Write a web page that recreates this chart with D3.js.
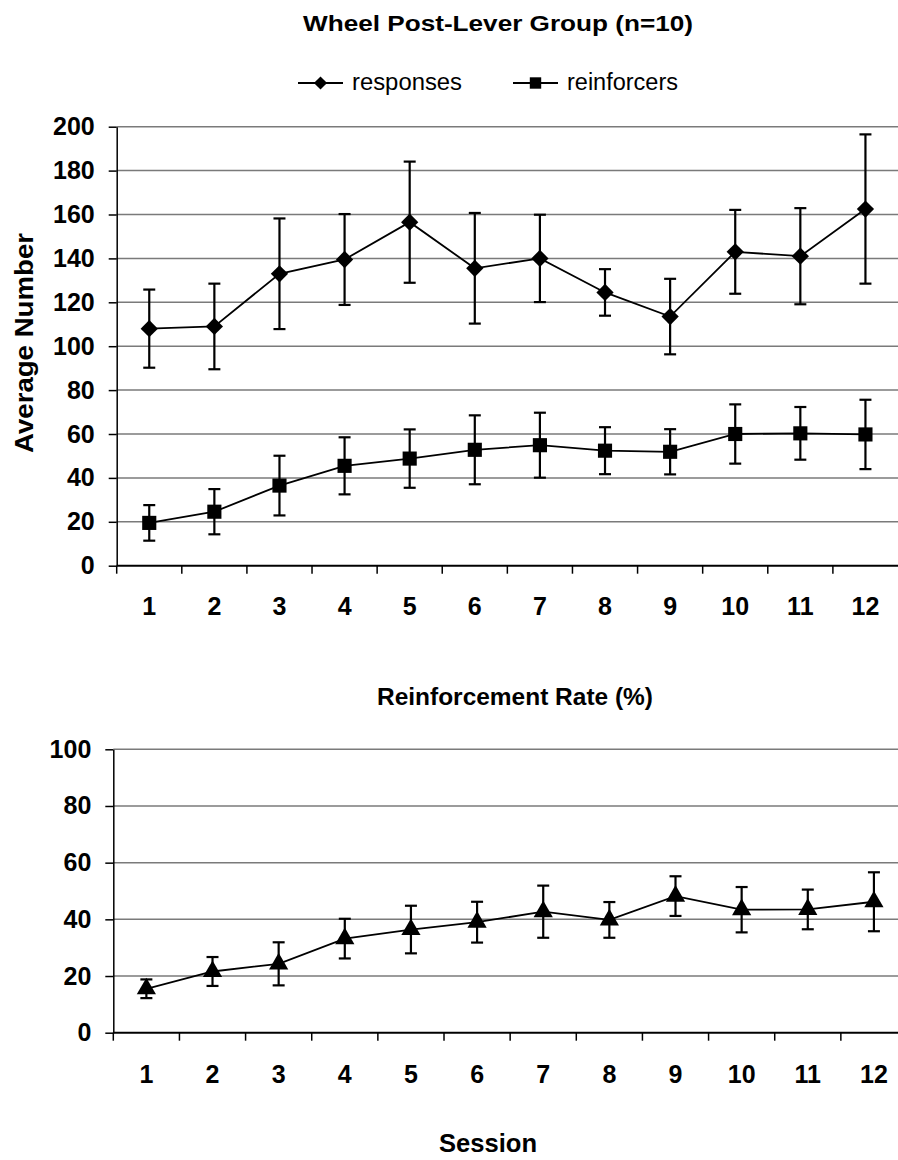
<!DOCTYPE html>
<html>
<head>
<meta charset="utf-8">
<script src="https://cdn.jsdelivr.net/npm/d3@7"></script>
<style>
  body { margin: 0; background: #fff; }
  svg { display: block; font-family: "Liberation Sans", Arial, sans-serif; }
</style>
</head>
<body>
<div id="chart"></div>
<script>
// sessions on the x axis
const sessions = [1, 2, 3, 4, 5, 6, 7, 8, 9, 10, 11, 12];

// top panel: average number (mean +/- error)
const responsesMean = [108, 109, 133, 139.5, 156.5, 135.5, 140, 124.5, 113.5, 143, 141, 162.5];
const responsesErr = [17.8, 19.5, 25.2, 20.7, 27.6, 25.2, 19.9, 10.6, 17.2, 19.1, 21.9, 34];
const reinforcersMean = [19.5, 24.6, 36.5, 45.5, 48.8, 52.8, 54.9, 52.4, 51.9, 60, 60.3, 59.8];
const reinforcersErr = [8.1, 10.3, 13.6, 13, 13.3, 15.7, 14.8, 10.7, 10.3, 13.5, 12, 15.8];

// bottom panel: reinforcement rate (%)
const rateMean = [15.5, 21.6, 24.3, 33.2, 36.4, 39, 42.7, 39.8, 48.2, 43.4, 43.5, 46.2];
const rateErr = [3.3, 5.1, 7.6, 7, 8.4, 7.2, 9.2, 6.3, 7, 8, 7, 10.4];

const topTicks = [0, 20, 40, 60, 80, 100, 120, 140, 160, 180, 200];
const bottomTicks = [0, 20, 40, 60, 80, 100];

const width = 898;
const height = 1160;

const svg = d3.select("#chart")
    .append("svg")
    .attr("width", width)
    .attr("height", height);

// one panel: gridlines, axes, error bars, line and markers
let drawPanel = function (cfg) {
    const x = d3.scaleBand()
        .domain(sessions)
        .range([cfg.left, cfg.right]);
    const y = d3.scaleLinear()
        .domain([0, cfg.max])
        .range([cfg.bottom, cfg.top]);

    const g = svg.append("g");

    // gridlines
    g.append("g")
        .selectAll("line")
        .data(cfg.ticks.filter(d => d > 0))
        .join("line")
        .attr("x1", cfg.left)
        .attr("x2", cfg.right)
        .attr("y1", d => y(d))
        .attr("y2", d => y(d))
        .attr("stroke", "#7a7a7a")
        .attr("stroke-width", 1.5);

    // y axis
    const yAxis = g.append("g")
        .attr("transform", `translate(${cfg.left},0)`)
        .call(d3.axisLeft(y).tickValues(cfg.ticks).tickSize(8).tickPadding(14).tickSizeOuter(0));
    yAxis.select(".domain").attr("stroke", "#000").attr("stroke-width", 1.5);
    yAxis.selectAll(".tick line").attr("stroke", "#000").attr("stroke-width", 1.5);
    yAxis.selectAll(".tick text")
        .attr("font-family", "Liberation Sans, Arial, sans-serif")
        .attr("font-size", 25)
        .attr("font-weight", "bold")
        .attr("fill", "#000");

    // x axis: line, ticks between categories, labels at centres
    g.append("line")
        .attr("x1", cfg.left)
        .attr("x2", cfg.right)
        .attr("y1", y(0))
        .attr("y2", y(0))
        .attr("stroke", "#000")
        .attr("stroke-width", 2);
    g.append("g")
        .selectAll("line")
        .data(sessions)
        .join("line")
        .attr("x1", d => x(d))
        .attr("x2", d => x(d))
        .attr("y1", y(0))
        .attr("y2", y(0) + 8)
        .attr("stroke", "#000")
        .attr("stroke-width", 1.5);
    g.append("g")
        .selectAll("text")
        .data(sessions)
        .join("text")
        .attr("x", d => x(d) + x.bandwidth() / 2)
        .attr("y", cfg.labelY)
        .attr("text-anchor", "middle")
        .attr("font-size", 25)
        .attr("font-weight", "bold")
        .text(d => d);

    const cx = d => x(d) + x.bandwidth() / 2;

    cfg.series.forEach(s => {
        const pts = sessions.map((d, i) => ({ s: d, v: s.mean[i], e: s.err[i] }));

        // error bars
        const eb = g.append("g").attr("stroke", "#000").attr("stroke-width", 2.2);
        eb.selectAll(".v")
            .data(pts)
            .join("line")
            .attr("x1", d => cx(d.s)).attr("x2", d => cx(d.s))
            .attr("y1", d => y(d.v + d.e)).attr("y2", d => y(d.v - d.e));
        eb.selectAll(".t")
            .data(pts.flatMap(d => [d.v + d.e, d.v - d.e].map(v => ({ s: d.s, v }))))
            .join("line")
            .attr("x1", d => cx(d.s) - 6).attr("x2", d => cx(d.s) + 6)
            .attr("y1", d => y(d.v)).attr("y2", d => y(d.v));

        // connecting line
        g.append("path")
            .datum(pts)
            .attr("fill", "none")
            .attr("stroke", "#000")
            .attr("stroke-width", 1.8)
            .attr("d", d3.line().x(d => cx(d.s)).y(d => y(d.v)));

        // markers
        g.append("g")
            .selectAll("path")
            .data(pts)
            .join("path")
            .attr("transform", d => `translate(${cx(d.s)},${y(d.v)})`)
            .attr("d", d3.symbol().type(s.symbol).size(s.size))
            .attr("fill", "#000");
    });
};

drawPanel({
    left: 116.7, right: 898, top: 126.7, bottom: 565.7, max: 200,
    ticks: topTicks, labelY: 615,
    series: [
        { mean: responsesMean, err: responsesErr, symbol: d3.symbolDiamond2, size: 190 },
        { mean: reinforcersMean, err: reinforcersErr, symbol: d3.symbolSquare, size: 200 }
    ]
});

drawPanel({
    left: 113.3, right: 907, top: 749.3, bottom: 1032.7, max: 100,
    ticks: bottomTicks, labelY: 1083,
    series: [
        { mean: rateMean, err: rateErr, symbol: d3.symbolTriangle, size: 160 }
    ]
});

// titles
svg.append("text")
    .attr("x", 303).attr("y", 31)
    .attr("font-size", 22).attr("font-weight", "bold")
    .attr("textLength", 390).attr("lengthAdjust", "spacingAndGlyphs")
    .text("Wheel Post-Lever Group (n=10)");

svg.append("text")
    .attr("x", 377).attr("y", 705)
    .attr("font-size", 23).attr("font-weight", "bold")
    .attr("textLength", 276).attr("lengthAdjust", "spacingAndGlyphs")
    .text("Reinforcement Rate (%)");

svg.append("text")
    .attr("x", 439).attr("y", 1152)
    .attr("font-size", 25).attr("font-weight", "bold")
    .attr("textLength", 98).attr("lengthAdjust", "spacingAndGlyphs")
    .text("Session");

svg.append("text")
    .attr("transform", "translate(33,343) rotate(-90)")
    .attr("text-anchor", "middle")
    .attr("font-size", 25).attr("font-weight", "bold")
    .attr("textLength", 220).attr("lengthAdjust", "spacingAndGlyphs")
    .text("Average Number");

// legend
const legendItems = [
    { name: "responses", symbol: d3.symbolDiamond2, size: 110, x0: 298, tx: 352, tw: 110 },
    { name: "reinforcers", symbol: d3.symbolSquare, size: 130, x0: 513, tx: 567, tw: 111 }
];
const legend = svg.append("g");
legendItems.forEach(it => {
    legend.append("line")
        .attr("x1", it.x0).attr("x2", it.x0 + 45)
        .attr("y1", 83).attr("y2", 83)
        .attr("stroke", "#000").attr("stroke-width", 2);
    legend.append("path")
        .attr("transform", `translate(${it.x0 + 22.5},83)`)
        .attr("d", d3.symbol().type(it.symbol).size(it.size))
        .attr("fill", "#000");
    legend.append("text")
        .attr("x", it.tx).attr("y", 90)
        .attr("font-size", 23)
        .attr("textLength", it.tw).attr("lengthAdjust", "spacingAndGlyphs")
        .text(it.name);
});
</script>
</body>
</html>
